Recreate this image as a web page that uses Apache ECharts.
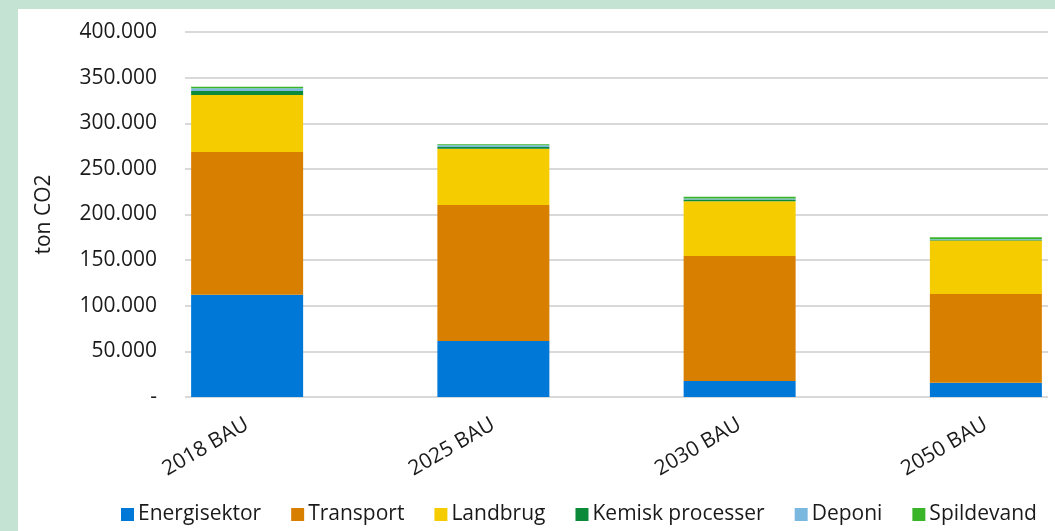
<!DOCTYPE html>
<html>
<head>
<meta charset="utf-8">
<script src="https://cdn.jsdelivr.net/npm/echarts@6/dist/echarts.min.js"></script>
<style>
  html, body { margin: 0; padding: 0; }
  body { width: 1055px; height: 531px; background: #c5e3d2; position: relative; overflow: hidden; }
  #chart { position: absolute; left: 18px; top: 9px; right: 0; bottom: 0; background: #fff; }
</style>
</head>
<body>
<div id="chart"></div>
<script>
const categories = ['2018 BAU', '2025 BAU', '2030 BAU', '2050 BAU'];
const seriesNames = ['Energisektor', 'Transport', 'Landbrug', 'Kemisk processer', 'Deponi', 'Spildevand'];
const energisektor = [112000, 61500, 17500, 15500];
const transport = [156500, 149000, 137000, 97500];
const landbrug = [62500, 61500, 60000, 58500];
const kemisk = [4400, 2000, 2000, 500];
const deponi = [3000, 2000, 1000, 1000];
const spildevand = [1500, 1000, 2000, 2000];
const colors = ['#0078d7', '#d97f00', '#f5cc00', '#0b8a3a', '#7ab8e0', '#3ab52a'];

const font = '"Open Sans", sans-serif';
const chart = echarts.init(document.getElementById('chart'));
const values = [energisektor, transport, landbrug, kemisk, deponi, spildevand];

// container is offset by 18/9px, so grid numbers are relative to it
const offX = 18, offY = 9;

chart.setOption({
  animation: false,
  color: colors,
  textStyle: { fontFamily: font },
  legend: {
    data: seriesNames,
    left: 116 - offX,
    top: 499 - offY,
    itemWidth: 13,
    itemHeight: 13,
    itemGap: 30,
    icon: 'rect',
    textStyle: { fontSize: 21, color: '#1a1a1a', fontFamily: font, padding: [0, 0, 0, -1] }
  },
  grid: [
    // grid for the gridlines and value labels
    { left: 185 - offX, right: 7, top: 32 - offY, bottom: 134, outerBoundsMode: 'none' },
    // wider grid that places the bars (runs past the right edge on purpose)
    { left: 124 - offX, width: 985, top: 32 - offY, bottom: 134, outerBoundsMode: 'none' }
  ],
  xAxis: [
    { type: 'category', gridIndex: 0, data: categories, show: false },
    {
      type: 'category', gridIndex: 1, data: categories,
      axisLine: { show: false }, axisTick: { show: false },
      axisLabel: { rotate: 30, margin: 26, fontSize: 21, color: '#1a1a1a', fontFamily: font }
    }
  ],
  yAxis: [
    {
      type: 'value', gridIndex: 0, min: 0, max: 400000, interval: 50000,
      name: 'ton CO2', nameLocation: 'middle', nameGap: 130,
      nameTextStyle: { fontSize: 21, color: '#1a1a1a', fontFamily: font },
      axisLine: { show: false }, axisTick: { show: false },
      axisLabel: {
        margin: 28, fontSize: 21, color: '#1a1a1a', fontFamily: font,
        formatter: v => v === 0 ? '-' : (v / 1000) + '.000'
      },
      splitLine: { lineStyle: { color: '#d9d9d9', width: 2 } }
    },
    { type: 'value', gridIndex: 1, min: 0, max: 400000, show: false }
  ],
  series: seriesNames.map((name, i) => ({
    name: name,
    type: 'bar',
    stack: 'total',
    xAxisIndex: 1,
    yAxisIndex: 1,
    barWidth: 112,
    data: values[i]
  }))
});
</script>
</body>
</html>
